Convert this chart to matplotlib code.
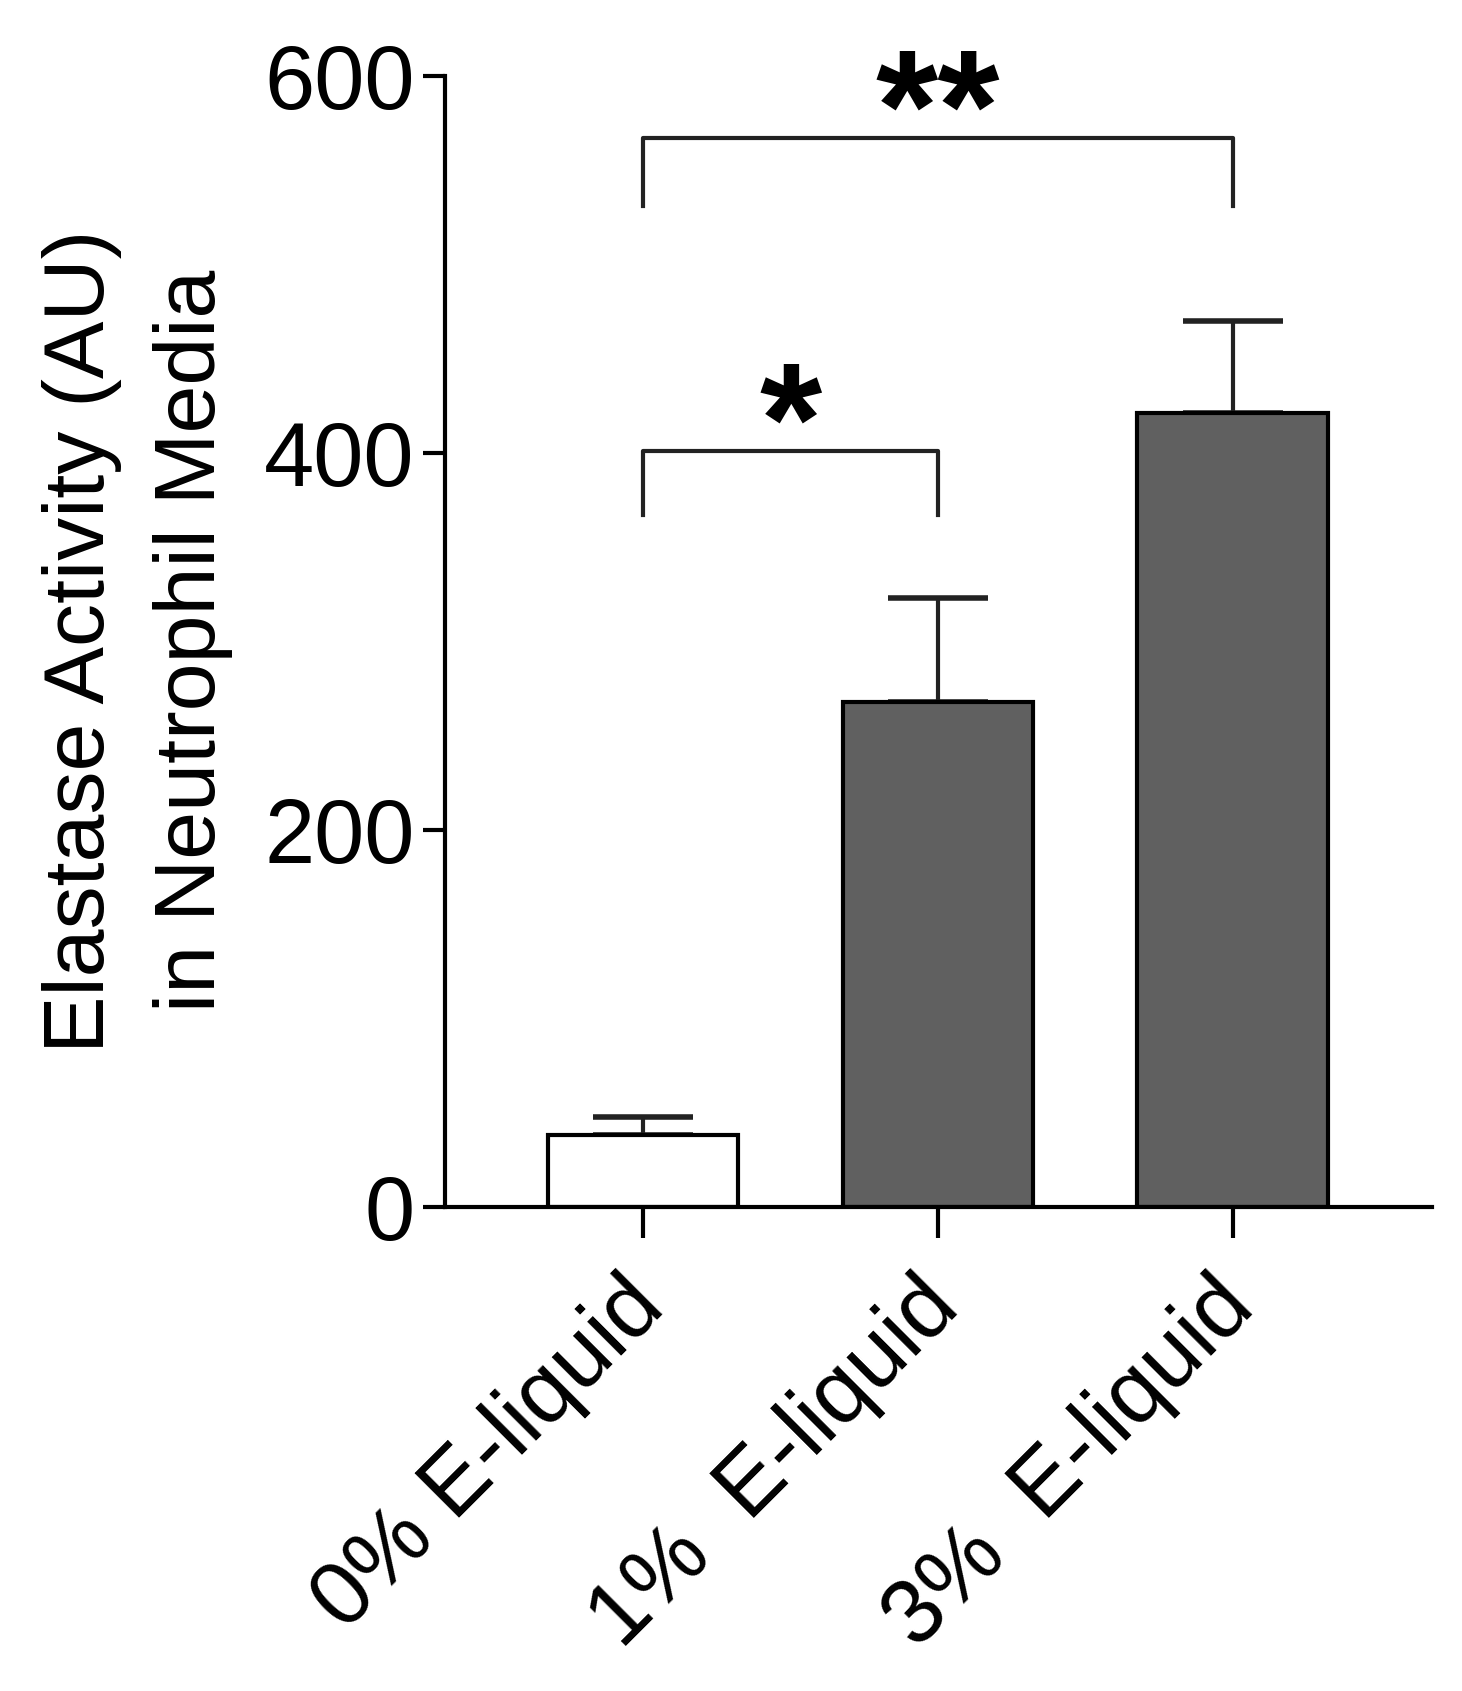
import matplotlib
matplotlib.use("Agg")
import matplotlib.pyplot as plt
import matplotlib.transforms as mtransforms

categories = ["0% E-liquid", "1%  E-liquid", "3%  E-liquid"]
means = [38, 268, 421]
err_up = [10, 55, 49]
colors = ["white", "#606060", "#606060"]
yticks = [0, 200, 400, 600]
ylabel = "Elastase Activity (AU)\nin Neutrophil Media"
comparisons = [(0, 1, 401, 367, "*"), (0, 2, 567, 531, "**")]

plt.rcParams['font.family'] = ['Liberation Sans', 'DejaVu Sans']

fig = plt.figure(figsize=(14.62, 16.91), dpi=100)
ax = fig.add_axes([0.3044, 0.2862, 0.6751, 0.6691])

x = list(range(len(categories)))
ax.bar(x, means, width=0.645, color=colors, edgecolor="black", linewidth=3, zorder=2)
ax.errorbar(x, means, yerr=[[0]*len(means), err_up], fmt="none", ecolor="#222222",
            elinewidth=3, capsize=36, capthick=4, zorder=1)

for i, j, yh, yl, lab in comparisons:
    ax.plot([i, i, j, j], [yl, yh, yh, yl], color="#222222", lw=3, clip_on=False)
    ax.text((i + j) / 2, yh - 12, lab, ha="center", va="baseline", fontsize=115,
            fontweight="bold")

ax.set_xlim(-0.67, 2.676)
ax.set_ylim(0, 600)
ax.set_yticks(yticks)
ax.set_xticks(x)
ax.set_xticklabels([])
offset = mtransforms.ScaledTranslation(-0.22, -0.56, fig.dpi_scale_trans)
for xi, cat in zip(x, categories):
    ax.text(xi, 0, cat, transform=ax.get_xaxis_transform() + offset,
            rotation=45, ha="right", va="top", rotation_mode="anchor",
            fontsize=65, clip_on=False)
ax.tick_params(axis="y", labelsize=65, width=3, length=16, pad=6)
ax.tick_params(axis="x", width=3, length=22, pad=18)
for s in ["top", "right"]:
    ax.spines[s].set_visible(False)
for s in ["left", "bottom"]:
    ax.spines[s].set_linewidth(3)
ax.set_ylabel(ylabel, fontsize=62, linespacing=1.5, labelpad=22)

fig.savefig("out.png", dpi=100)
